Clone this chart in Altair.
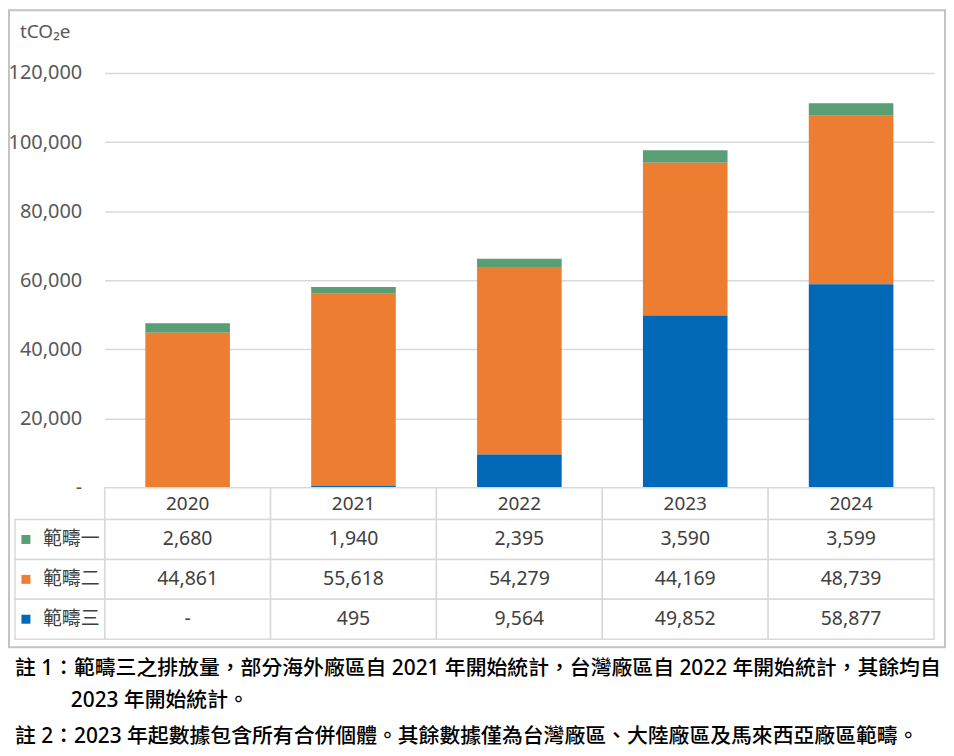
import altair as alt
import pandas as pd

years = ["2020", "2021", "2022", "2023", "2024"]
series = ["範疇一", "範疇二", "範疇三"]
scope1 = [2680, 1940, 2395, 3590, 3599]
scope2 = [44861, 55618, 54279, 44169, 48739]
scope3 = [0, 495, 9564, 49852, 58877]
colors = ["#5A9E75", "#ED7D31", "#0068B7"]
stack_order = ["範疇三", "範疇二", "範疇一"]
y_ticks = [0, 20000, 40000, 60000, 80000, 100000, 120000]
unit_label = ["tCO₂e"]
note_line1 = "註 1：範疇三之排放量，部分海外廠區自 2021 年開始統計，台灣廠區自 2022 年開始統計，其餘均自"
note_line2 = "2023 年開始統計。"
note_line3 = "註 2：2023 年起數據包含所有合併個體。其餘數據僅為台灣廠區、大陸廠區及馬來西亞廠區範疇。"

rows = []
for s, vals in zip(series, [scope1, scope2, scope3]):
    for yr, v in zip(years, vals):
        rows.append({"year": yr, "series": s, "value": v})
df = pd.DataFrame(rows)

FONT = "Noto Sans, Noto Sans CJK TC"
GRID = "#d9d9d9"
TXT = "#404040"
W = 832

xscale = alt.Scale(domain=years, paddingInner=0, paddingOuter=0)
X = alt.X("year:N", scale=xscale, axis=None)
color = alt.Color("series:N", scale=alt.Scale(domain=series, range=colors), legend=None)
order_list = "[" + ",".join("'" + s + "'" for s in stack_order) + "]"

# ---- top: stacked bars ----
bars = alt.Chart(df).transform_calculate(
    stackorder=f"indexof({order_list}, datum.series)"
).mark_bar(width={"band": 0.51}).encode(
    x=X,
    y=alt.Y(
        "value:Q",
        stack="zero",
        scale=alt.Scale(domain=[0, 120000], nice=False),
        axis=alt.Axis(
            values=y_ticks, title=None, grid=True, gridColor=GRID, gridWidth=1.5,
            domain=False, ticks=False, labelFont=FONT, labelFontSize=20,
            labelColor="#595959", labelPadding=23,
            labelExpr="datum.value == 0 ? '-\u00a0\u00a0' : format(datum.value, ',')",
        ),
    ),
    color=color,
    order=alt.Order("stackorder:Q", sort="ascending"),
)

unit = alt.Chart(pd.DataFrame({"t": unit_label})).mark_text(
    align="left", baseline="middle", font=FONT, fontSize=19, color="#595959"
).encode(x=alt.value(-85), y=alt.value(-41), text="t:N")

box = alt.Chart(pd.DataFrame({"a": [0]})).mark_rect(
    filled=False, stroke="#c4c4c4", strokeWidth=2
).encode(x=alt.value(-96), x2=alt.value(843), y=alt.value(-63), y2=alt.value(576))

top = alt.layer(box, bars, unit).properties(width=W, height=416)

# ---- header row ----
hdf = pd.DataFrame({"year": years})
hcells = alt.Chart(hdf).mark_rect(fill="white", stroke=GRID, strokeWidth=1.5).encode(x=X)
htext = alt.Chart(hdf).mark_text(font=FONT, fontSize=19, color=TXT, baseline="middle").encode(
    x=X, text="year:N"
)
header = alt.layer(hcells, htext).properties(width=W, height=32)

# ---- data table ----
Y = alt.Y("series:N", scale=alt.Scale(domain=series, paddingInner=0, paddingOuter=0), axis=None)
sdf = pd.DataFrame({"series": series})
cells = alt.Chart(df).mark_rect(fill="white", stroke=GRID, strokeWidth=1.5).encode(x=X, y=Y)
left_cells = alt.Chart(sdf).mark_rect(fill="white", stroke=GRID, strokeWidth=1.5).encode(
    x=alt.value(-90), x2=alt.value(0), y=Y
)
squares = alt.Chart(sdf).mark_square(size=81, opacity=1).encode(x=alt.value(-79), y=Y, color=color)
labels = alt.Chart(sdf).mark_text(align="left", baseline="middle", font=FONT, fontSize=19, color=TXT).encode(
    x=alt.value(-62), y=Y, text="series:N"
)
values = alt.Chart(df).transform_calculate(
    label="datum.value == 0 ? '-' : format(datum.value, ',')"
).mark_text(baseline="middle", font=FONT, fontSize=19.5, color=TXT).encode(x=X, y=Y, text="label:N")

def note(txt, x, y):
    return alt.Chart(pd.DataFrame({"t": [txt]})).mark_text(
        align="left", baseline="middle", font=FONT, fontSize=20.9, fontWeight=500, color="#000000"
    ).encode(x=alt.value(x), y=alt.value(y), text="t:N")

table = alt.layer(
    cells, left_cells, squares, labels, values,
    note(note_line1, -90, 150), note(note_line2, -34, 182), note(note_line3, -90, 218),
).properties(width=W, height=120)

chart = alt.vconcat(top, header, table, spacing=0, bounds="flush").properties(
    padding=0, background="white"
).configure_view(strokeWidth=0)

chart.save("out.html", embed_options={"renderer": "svg", "actions": False})
